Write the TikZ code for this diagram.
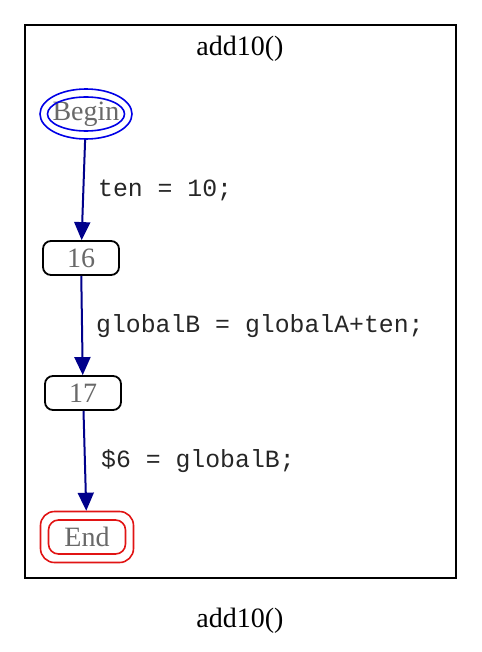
\documentclass[tikz,border=0pt]{standalone}
\usepackage{fontspec}
\setmainfont{Liberation Serif}
\setmonofont{Liberation Mono}
\usetikzlibrary{arrows.meta,shapes.geometric,calc}
\definecolor{nodetext}{RGB}{105,105,105}
\definecolor{edgeblue}{RGB}{0,0,139}
\definecolor{beginblue}{RGB}{0,0,230}
\definecolor{endred}{RGB}{225,20,20}
\begin{document}
\begin{tikzpicture}[x=1pt,y=-1pt,
  serif/.style={font=\fontsize{28}{30}\selectfont},
  lbl/.style={serif,text=nodetext,inner sep=0pt},
  stmt/.style={font=\fontsize{24.8}{26}\selectfont\ttfamily,text=black!85,anchor=west,inner sep=0pt},
  stmtbox/.style={lbl,draw=black,line width=1.8pt,rounded corners=8pt,minimum width=76pt,minimum height=34pt},
  flow/.style={draw=edgeblue,line width=2pt,-{Triangle[length=18pt,width=16pt]}}]
\useasboundingbox (0,0) rectangle (481,652);
% cluster
\draw[line width=2pt] (25,25) rectangle (456,578);
\node[serif] (title) at (240,49) {add10()};
\node[serif] (caption) at (240,621) {add10()};
% nodes
\node[lbl,shape=ellipse,draw=beginblue,line width=1.6pt,minimum width=92pt,minimum height=50pt] (Begin) at (86,114) {\makebox[0pt]{\raisebox{-2pt}{Begin}}};
\draw[beginblue,line width=1.6pt] (Begin.center) ellipse (38.5 and 17);
\node[stmtbox] (n16) at (81,258) {16};
\node[stmtbox] (n17) at (83,393) {17};
\node[lbl,draw=endred,line width=1.6pt,rounded corners=14pt,minimum width=93pt,minimum height=51pt] (End) at (87,537) {\makebox[0pt]{End}};
\draw[endred,line width=1.6pt,rounded corners=10pt] ($(End.center)+(-38.5,-17)$) rectangle ($(End.center)+(38.5,17)$);
% edges
\draw[flow] (Begin) -- (n16);
\draw[flow] (n16) -- (n17);
\draw[flow] (n17) -- (End);
\node[stmt] (s1) at (98,190) {ten = 10;};
\node[stmt] (s2) at (96,326) {globalB = globalA+ten;};
\node[stmt] (s3) at (101,461) {\$6 = globalB;};
\end{tikzpicture}
\end{document}
